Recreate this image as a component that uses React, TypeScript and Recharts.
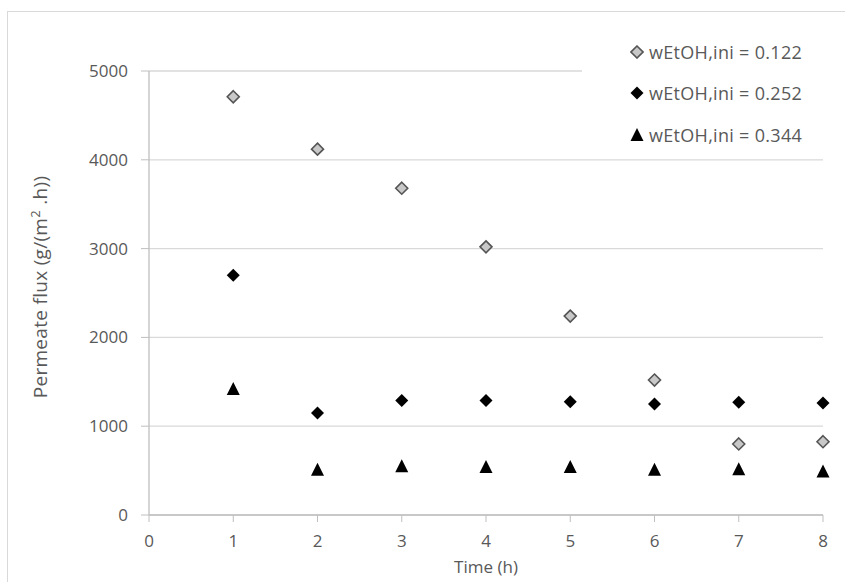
import React from "react";
import { ScatterChart, Scatter, XAxis, YAxis, CartesianGrid, Legend } from "recharts";

const times = [1, 2, 3, 4, 5, 6, 7, 8];
const flux0122 = [4710, 4120, 3680, 3020, 2240, 1520, 800, 825];
const flux0252 = [2700, 1150, 1290, 1290, 1275, 1250, 1270, 1260];
const flux0344 = [1420, 510, 550, 540, 540, 510, 515, 490];
const xTicks = [0, 1, 2, 3, 4, 5, 6, 7, 8];
const yTicks = [0, 1000, 2000, 3000, 4000, 5000];
const seriesNames = ["wEtOH,ini = 0.122", "wEtOH,ini = 0.252", "wEtOH,ini = 0.344"];

const toPoints = (vals: number[]) => times.map((t, i) => ({ x: t, y: vals[i] }));

const FONT = "'Open Sans', sans-serif";
const TXT = "#595959";
const AX = "#bfbfbf";

const DiamondGray = (p: any) => {
  const { cx, cy } = p;
  if (cx == null || cy == null) return null;
  return <polygon points={`${cx},${cy - 6} ${cx + 6},${cy} ${cx},${cy + 6} ${cx - 6},${cy}`} fill="#c8c8c8" stroke="#555" strokeWidth={1.6} />;
};
const DiamondBlack = (p: any) => {
  const { cx, cy } = p;
  if (cx == null || cy == null) return null;
  return <polygon points={`${cx},${cy - 6.5} ${cx + 6.5},${cy} ${cx},${cy + 6.5} ${cx - 6.5},${cy}`} fill="#000" />;
};
const Triangle = (p: any) => {
  const { cx, cy } = p;
  if (cx == null || cy == null) return null;
  return <polygon points={`${cx},${cy - 7} ${cx + 6.5},${cy + 6} ${cx - 6.5},${cy + 6}`} fill="#000" />;
};

const markerFor = (i: number) => {
  const props = { cx: 7, cy: 7 };
  if (i === 0) return <DiamondGray {...props} />;
  if (i === 1) return <DiamondBlack {...props} />;
  return <Triangle {...props} />;
};

const LegendContent = () => (
  <div style={{ background: "#fff", width: 241, height: 125, paddingTop: 1, boxSizing: "border-box" }}>
    {seriesNames.map((n, i) => (
      <div key={n} style={{ height: 41.5, display: "flex", alignItems: "center", paddingLeft: 48 }}>
        <svg width={14} height={14} style={{ marginRight: 5 }}>{markerFor(i)}</svg>
        <span style={{ fontFamily: FONT, fontSize: 18, letterSpacing: 0.3, color: TXT }}>{n}</span>
      </div>
    ))}
  </div>
);

export default function App() {
  return (
    <div style={{ position: "absolute", left: 0, top: 0, width: 845, height: 582, overflow: "hidden", background: "#fff" }}>
      <div style={{ position: "absolute", left: 7, top: 11, width: 900, height: 700, border: "1px solid #d9d9d9" }} />
      <div style={{ position: "absolute", left: 0, top: 0 }}>
        <ScatterChart width={845} height={582} margin={{ top: 71, right: 22, bottom: 0, left: 0 }}>
          <CartesianGrid vertical={false} stroke="#d9d9d9" strokeWidth={1.3} />
          <XAxis
            type="number"
            dataKey="x"
            domain={[0, 8]}
            ticks={xTicks}
            height={67}
            axisLine={{ stroke: AX, strokeWidth: 1.3 }}
            tickLine={{ stroke: AX }}
            tickSize={7}
            tickMargin={13}
            tick={{ fill: TXT, fontSize: 17, fontFamily: FONT }}
            label={{ value: "Time (h)", position: "insideBottom", offset: 9, fill: TXT, fontSize: 17, fontFamily: FONT }}
          />
          <YAxis
            type="number"
            dataKey="y"
            domain={[0, 5000]}
            ticks={yTicks}
            width={149}
            axisLine={{ stroke: AX, strokeWidth: 1.3 }}
            tickLine={{ stroke: AX }}
            tickSize={8}
            tickMargin={13}
            tick={{ fill: TXT, fontSize: 17, fontFamily: FONT }}
            label={{
              content: () => (
                <text x={47} y={287} transform="rotate(-90 47 287)" textAnchor="middle" fill={TXT} fontSize={19} letterSpacing={0.3} fontFamily={FONT}>
                  Permeate flux (g/(m<tspan fontSize={13} dy={-7}>2</tspan><tspan dy={7}> .h))</tspan>
                </text>
              ),
            }}
          />
          <Legend
            layout="horizontal"
            verticalAlign="middle"
            content={LegendContent}
            wrapperStyle={{ position: "absolute", left: 582, top: 30, width: 241, height: 125 }}
          />
          <Scatter name={seriesNames[0]} data={toPoints(flux0122)} shape={DiamondGray} isAnimationActive={false} />
          <Scatter name={seriesNames[1]} data={toPoints(flux0252)} shape={DiamondBlack} isAnimationActive={false} />
          <Scatter name={seriesNames[2]} data={toPoints(flux0344)} shape={Triangle} isAnimationActive={false} />
        </ScatterChart>
      </div>
    </div>
  );
}
